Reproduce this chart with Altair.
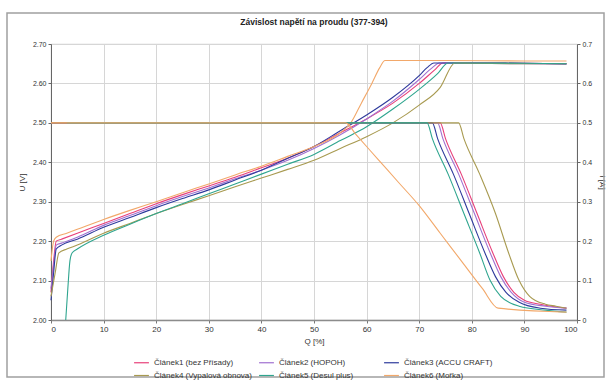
import altair as alt
import pandas as pd

# Series names (cells)
names = [
    "Článek1 (bez Přísady)",
    "Článek2 (HOPOH)",
    "Článek3 (ACCU CRAFT)",
    "Článek4 (Vypalová obnova)",
    "Článek5 (Desul plus)",
    "Článek6 (Mořka)",
]
colors = ["#E8407A", "#A070D0", "#2E3A9C", "#A89A50", "#2FA58F", "#F2A86A"]

# Voltage U [V] vs. charge Q [%]
u_q = [
    [0, 0.5, 1, 2, 5, 10, 15, 20, 25, 30, 35, 40, 45, 50, 55, 60, 65, 70, 73, 74.5, 80, 90, 98],
    [0, 0.5, 1, 2, 5, 10, 15, 20, 25, 30, 35, 40, 45, 50, 55, 60, 65, 70, 72.5, 73.8, 80, 90, 98],
    [0, 0.5, 1, 2, 5, 10, 15, 20, 25, 30, 35, 40, 45, 50, 55, 60, 65, 70, 71.5, 72.8, 80, 90, 98],
    [0, 0.8, 1.5, 3, 5, 10, 15, 20, 25, 30, 35, 40, 45, 50, 55, 60, 65, 70, 74, 76.8, 80, 90, 98],
    [2.8, 3.2, 3.6, 4, 5, 10, 15, 20, 25, 30, 35, 40, 45, 50, 55, 60, 65, 70, 73.5, 75.5, 80, 90, 98],
    [0, 0.5, 1, 3, 5, 10, 15, 20, 25, 30, 35, 40, 45, 50, 55, 57, 59, 61, 62.5, 63.5, 75, 90, 98],
]
u_v = [
    [2.07, 2.15, 2.20, 2.205, 2.22, 2.245, 2.27, 2.295, 2.318, 2.34, 2.362, 2.386, 2.41, 2.44, 2.475, 2.51, 2.55, 2.60, 2.635, 2.652, 2.652, 2.651, 2.65],
    [2.08, 2.14, 2.19, 2.195, 2.21, 2.24, 2.265, 2.29, 2.313, 2.335, 2.358, 2.38, 2.405, 2.435, 2.47, 2.51, 2.555, 2.61, 2.64, 2.652, 2.651, 2.65, 2.649],
    [2.05, 2.12, 2.18, 2.19, 2.205, 2.235, 2.26, 2.285, 2.308, 2.33, 2.355, 2.38, 2.41, 2.44, 2.48, 2.52, 2.565, 2.62, 2.64, 2.652, 2.652, 2.651, 2.65],
    [2.06, 2.12, 2.17, 2.18, 2.19, 2.22, 2.245, 2.27, 2.293, 2.315, 2.338, 2.36, 2.382, 2.405, 2.435, 2.465, 2.50, 2.545, 2.59, 2.652, 2.651, 2.65, 2.65],
    [2.00, 2.08, 2.15, 2.17, 2.18, 2.215, 2.243, 2.27, 2.295, 2.32, 2.345, 2.37, 2.395, 2.42, 2.455, 2.49, 2.535, 2.585, 2.625, 2.652, 2.652, 2.651, 2.65],
    [2.15, 2.20, 2.21, 2.22, 2.23, 2.255, 2.278, 2.30, 2.323, 2.345, 2.368, 2.39, 2.415, 2.44, 2.475, 2.50, 2.55, 2.60, 2.64, 2.658, 2.658, 2.657, 2.657],
]

# Current I [A] vs. charge Q [%]
i_q = [
    [0, 74, 75, 78, 81, 84, 86, 88, 90, 93, 98],
    [0, 73.5, 74.5, 77.5, 80.5, 83.5, 85.5, 87.5, 90, 94, 98],
    [0, 72.5, 73.5, 76.5, 79.5, 82.5, 84.5, 86.5, 89, 93, 98],
    [0, 77.5, 78.5, 81.5, 84.5, 87, 89, 91, 94, 96, 98],
    [3, 71.5, 72.5, 75.5, 78.5, 81.5, 83.5, 85.5, 89, 94, 98],
    [0, 56, 58, 62, 66, 70, 74, 78, 82, 85, 98],
]
i_a = [
    [0.5, 0.5, 0.46, 0.37, 0.27, 0.17, 0.11, 0.07, 0.05, 0.04, 0.03],
    [0.5, 0.5, 0.46, 0.37, 0.27, 0.17, 0.11, 0.07, 0.045, 0.035, 0.03],
    [0.5, 0.5, 0.46, 0.37, 0.27, 0.17, 0.11, 0.07, 0.045, 0.03, 0.025],
    [0.5, 0.5, 0.46, 0.37, 0.27, 0.17, 0.10, 0.06, 0.04, 0.035, 0.03],
    [0.5, 0.5, 0.46, 0.37, 0.27, 0.17, 0.10, 0.06, 0.035, 0.025, 0.02],
    [0.5, 0.5, 0.47, 0.41, 0.35, 0.29, 0.22, 0.15, 0.08, 0.03, 0.02],
]

x_ticks = list(range(0, 101, 5))
u_ticks = [2.0, 2.1, 2.2, 2.3, 2.4, 2.5, 2.6, 2.7]
i_ticks = [0, 0.1, 0.2, 0.3, 0.4, 0.5, 0.6, 0.7]

u_rows, i_rows = [], []
for k, name in enumerate(names):
    for j, (q, v) in enumerate(zip(u_q[k], u_v[k])):
        u_rows.append({"clanek": name, "Q": q, "U": v, "ord": j})
    for j, (q, a) in enumerate(zip(i_q[k], i_a[k])):
        i_rows.append({"clanek": name, "Q": q, "I": a, "ord": j})
u_df = pd.DataFrame(u_rows)
i_df = pd.DataFrame(i_rows)

FONT = "Liberation Sans"
color = alt.Color(
    "clanek:N",
    scale=alt.Scale(domain=names, range=colors),
    legend=alt.Legend(
        title=None,
        orient="none",
        legendX=82,
        legendY=310,
        columns=3,
        direction="horizontal",
        gridAlign="all",
        columnPadding=4,
        rowPadding=-5,
        symbolType="stroke",
        symbolSize=220,
        symbolStrokeWidth=1.2,
        labelFontSize=8,
        labelFont=FONT,
        labelColor="#333333",
        labelLimit=200,
    ),
)

x_enc = alt.X(
    "Q:Q",
    scale=alt.Scale(domain=[0, 100], nice=False),
    axis=alt.Axis(
        values=x_ticks, title="Q [%]", titleFontSize=8, titleFontWeight="normal",
        titlePadding=4, labelFontSize=8, grid=True, gridColor="#D6D6D6",
        domainColor="#8C8C8C", domainWidth=1.5, tickColor="#777777", tickSize=3,
        labelColor="#333333", titleColor="#333333",
    ),
)

u_lines = alt.Chart(u_df).mark_line(strokeWidth=1.1, interpolate="monotone").encode(
    x=x_enc,
    y=alt.Y(
        "U:Q",
        scale=alt.Scale(domain=[2.0, 2.7], nice=False, zero=False),
        axis=alt.Axis(
            values=u_ticks, format=".2f", title="U [V]", titleFontSize=8,
            titleFontWeight="normal", titlePadding=6, labelFontSize=7,
            grid=True, gridColor="#D6D6D6", domainColor="#666666",
            tickColor="#666666", tickSize=3, labelColor="#333333", titleColor="#333333",
        ),
    ),
    color=color,
    detail="clanek:N",
    order="ord:Q",
)

i_lines = alt.Chart(i_df).mark_line(strokeWidth=1.1, interpolate="monotone").encode(
    x=alt.X("Q:Q"),
    y=alt.Y(
        "I:Q",
        scale=alt.Scale(domain=[0, 0.7], nice=False),
        axis=alt.Axis(
            orient="right", values=i_ticks, format="~g", title="I [A]",
            titleFontSize=8, titleFontWeight="normal", titlePadding=6,
            labelFontSize=7, grid=False, domainColor="#666666",
            tickColor="#666666", tickSize=3, labelColor="#333333", titleColor="#333333",
        ),
    ),
    color=alt.Color("clanek:N", scale=alt.Scale(domain=names, range=colors)),
    detail="clanek:N",
    order="ord:Q",
)

# Outer frame around the whole figure
frame = alt.Chart(pd.DataFrame({"f": [0]})).mark_rect(
    fill=None, stroke="#A0A0A0", strokeWidth=1.5
).encode(
    x=alt.value(-44), x2=alt.value(553), y=alt.value(-31), y2=alt.value(333)
)

chart = (
    alt.layer(u_lines, i_lines, frame)
    .resolve_scale(y="independent")
    .properties(
        width=526,
        height=276,
        autosize=alt.AutoSizeParams(type="none"),
        padding={"left": 51, "top": 44, "right": 34, "bottom": 60},
        title=alt.TitleParams(
            "Závislost napětí na proudu (377-394)",
            fontSize=8.5, font=FONT, fontWeight="bold", color="#222222",
            anchor="middle", offset=-14,
        ),
    )
    .configure(font=FONT, background="white")
    .configure_view(stroke="#BBBBBB", strokeWidth=0.8)
)

chart.save("out.html", embed_options={"renderer": "svg", "actions": False})
